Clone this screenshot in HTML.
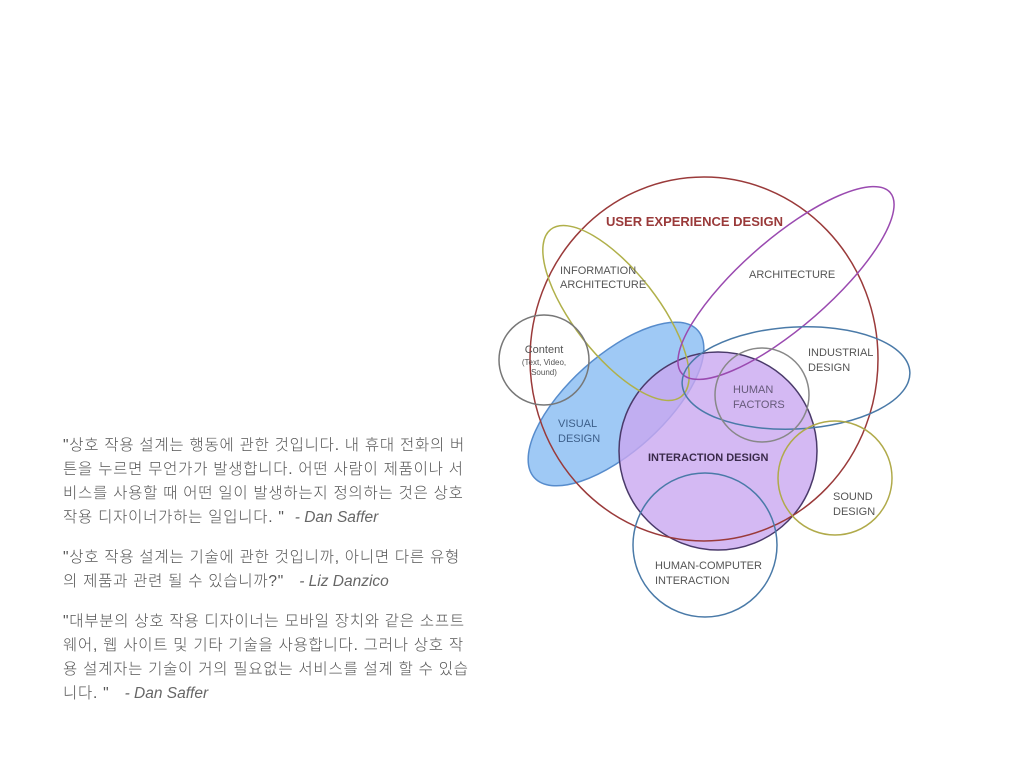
<!DOCTYPE html>
<html><head><meta charset="utf-8"><style>
body{margin:0;width:1024px;height:768px;background:#fff;overflow:hidden;position:relative;font-family:"Liberation Sans","Noto Sans CJK KR",sans-serif}
.q{position:absolute;left:63px;width:410px;font-size:15.5px;line-height:24px;color:#555;font-weight:300;letter-spacing:0.75px;word-break:break-all}
.q i{font-style:italic;color:#666;letter-spacing:0}
svg{position:absolute;left:0;top:0}
svg text{font-family:"Liberation Sans",sans-serif;fill:#555;font-size:11px}
</style></head><body>
<div class="q" style="top:434px">"상호 작용 설계는 행동에 관한 것입니다. 내 휴대 전화의 버튼을 누르면 무언가가 발생합니다. 어떤 사람이 제품이나 서비스를 사용할 때 어떤 일이 발생하는지 정의하는 것은 상호 작용 디자이너가하는 일입니다. " &nbsp;<i>- Dan Saffer</i></div>
<div class="q" style="top:546px">"상호 작용 설계는 기술에 관한 것입니까, 아니면 다른 유형의 제품과 관련 될 수 있습니까?" &nbsp; <i>- Liz Danzico</i></div>
<div class="q" style="top:610px">"대부분의 상호 작용 디자이너는 모바일 장치와 같은 소프트웨어, 웹 사이트 및 기타 기술을 사용합니다. 그러나 상호 작용 설계자는 기술이 거의 필요없는 서비스를 설계 할 수 있습니다. " &nbsp; <i>- Dan Saffer</i></div>
<svg width="1024" height="768">
<ellipse cx="616" cy="404" rx="110" ry="48" transform="rotate(-42 616 404)" fill="#8fc0f4" stroke="#3a78c4" stroke-width="1.5" opacity="0.85"/>
<circle cx="718" cy="451" r="99" fill="#c9a8f0" fill-opacity="0.8" stroke="#4a3a6a" stroke-width="1.5"/>
<ellipse cx="704" cy="359" rx="174" ry="182" fill="none" stroke="#9a3a3a" stroke-width="1.5"/>
<ellipse cx="616" cy="313" rx="106" ry="42" transform="rotate(52 616 313)" fill="none" stroke="#b0b04a" stroke-width="1.5"/>
<ellipse cx="786" cy="283" rx="138" ry="44" transform="rotate(-41 786 283)" fill="none" stroke="#9a4ab0" stroke-width="1.5"/>
<circle cx="544" cy="360" r="45" fill="none" stroke="#777" stroke-width="1.5"/>
<ellipse cx="796" cy="378" rx="114" ry="51" transform="rotate(-3 796 378)" fill="none" stroke="#4a7aa8" stroke-width="1.5"/>
<circle cx="762" cy="395" r="47" fill="none" stroke="#888" stroke-width="1.5"/>
<circle cx="835" cy="478" r="57" fill="none" stroke="#b0aa4a" stroke-width="1.5"/>
<circle cx="705" cy="545" r="72" fill="none" stroke="#4a7aa8" stroke-width="1.5"/>
<text x="606" y="226" style="fill:#9a3a3a;font-size:13px;font-weight:bold">USER EXPERIENCE DESIGN</text>
<text x="560" y="274">INFORMATION</text><text x="560" y="288">ARCHITECTURE</text>
<text x="749" y="278">ARCHITECTURE</text>
<text x="544" y="353" text-anchor="middle">Content</text>
<text x="544" y="365" text-anchor="middle" style="font-size:8px">(Text, Video,</text>
<text x="544" y="375" text-anchor="middle" style="font-size:8px">Sound)</text>
<text x="808" y="356">INDUSTRIAL</text><text x="808" y="371">DESIGN</text>
<text x="733" y="393" style="fill:#665a7a">HUMAN</text><text x="733" y="408" style="fill:#665a7a">FACTORS</text>
<text x="558" y="427" style="fill:#3d5f8a">VISUAL</text><text x="558" y="442" style="fill:#3d5f8a">DESIGN</text>
<text x="648" y="461" style="fill:#3a2a4a;font-weight:bold">INTERACTION DESIGN</text>
<text x="833" y="500">SOUND</text><text x="833" y="515">DESIGN</text>
<text x="655" y="569">HUMAN-COMPUTER</text><text x="655" y="584">INTERACTION</text>
</svg>
</body></html>
